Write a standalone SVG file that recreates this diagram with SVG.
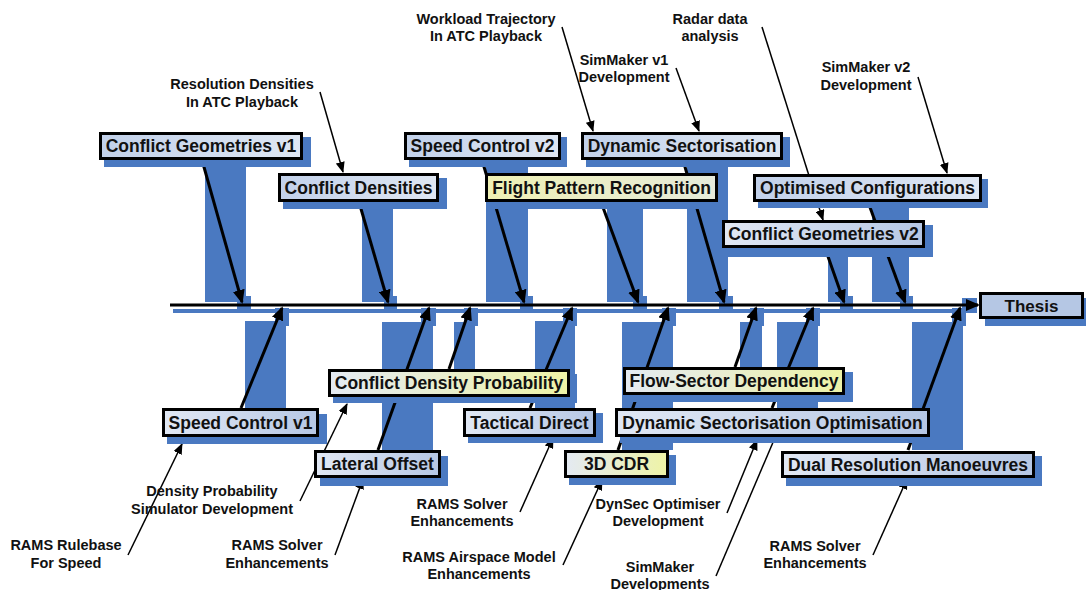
<svg xmlns="http://www.w3.org/2000/svg" width="1086" height="590" viewBox="0 0 1086 590">
  <style>
    .sh{fill:#4a79c1}
    .box{stroke:#000;stroke-width:3}
    .nt{font-family:"Liberation Sans",Arial,Helvetica,sans-serif;font-weight:bold;font-size:17.5px;text-anchor:middle;fill:#111}
    .lb{font-family:"Liberation Sans",Arial,Helvetica,sans-serif;font-weight:bold;font-size:14.5px;text-anchor:middle;fill:#111}
    .thick{stroke:#000;stroke-width:3;fill:none;marker-end:url(#ahB)}
    .thin{stroke:#000;stroke-width:1.5;fill:none;marker-end:url(#ahS)}
    .plain{stroke:#000;stroke-width:1.5;fill:none}
  </style>
  <defs>
    <linearGradient id="gTop" x1="0" y1="0" x2="1" y2="0">
      <stop offset="0" stop-color="#c2d1ea"/>
      <stop offset="1" stop-color="#dfe7f3"/>
    </linearGradient>
    <linearGradient id="gBot" x1="0" y1="0" x2="1" y2="0">
      <stop offset="0" stop-color="#e1e8f4"/>
      <stop offset="1" stop-color="#b6c7e4"/>
    </linearGradient>
    <linearGradient id="gYel" x1="0" y1="0" x2="1" y2="0">
      <stop offset="0" stop-color="#e4eaf3"/>
      <stop offset="1" stop-color="#eef3a6"/>
    </linearGradient>
    <linearGradient id="gYelR" x1="0" y1="0" x2="1" y2="0">
      <stop offset="0" stop-color="#eff1b4"/>
      <stop offset="1" stop-color="#e5eadb"/>
    </linearGradient>
    <marker id="ahB" markerUnits="userSpaceOnUse" markerWidth="14" markerHeight="12" refX="12" refY="6" orient="auto">
      <path d="M0,0L14,6L0,12z" fill="#000"/>
    </marker>
    <marker id="ahS" markerUnits="userSpaceOnUse" markerWidth="11" markerHeight="9" refX="10" refY="4.5" orient="auto">
      <path d="M0,0L11,4.5L0,9z" fill="#000"/>
    </marker>
  </defs>

  <!-- arrow shadows and timeline shadow -->
  <g id="shadows" class="sh">
    <rect x="173" y="309" width="796" height="4"/>
    <rect x="962" y="298" width="15" height="15"/>
    <!-- downward links -->
    <rect x="205" y="160" width="41" height="142"/><rect x="237" y="296" width="14" height="15"/>
    <rect x="362" y="202" width="31" height="100"/><rect x="384" y="296" width="13" height="15"/>
    <rect x="486" y="160" width="42" height="142"/><rect x="520" y="296" width="13" height="15"/>
    <rect x="607" y="202" width="36" height="100"/><rect x="633" y="296" width="14" height="15"/>
    <rect x="687" y="160" width="41" height="142"/><rect x="719" y="296" width="14" height="15"/>
    <rect x="872" y="202" width="37" height="100"/><rect x="900" y="296" width="13" height="15"/>
    <rect x="828" y="248" width="20" height="54"/><rect x="840" y="296" width="13" height="15"/>
    <!-- upward links -->
    <rect x="245" y="321" width="41" height="87"/><rect x="275" y="308" width="14" height="18"/>
    <rect x="382" y="322" width="51" height="128"/><rect x="421" y="308" width="15" height="18"/>
    <rect x="454" y="322" width="21" height="47"/><rect x="464" y="308" width="14" height="18"/>
    <rect x="535" y="321" width="40" height="87"/><rect x="563" y="308" width="14" height="18"/>
    <rect x="622" y="322" width="51" height="128"/><rect x="662" y="308" width="14" height="18"/>
    <rect x="740" y="322" width="22" height="45"/><rect x="750" y="308" width="14" height="18"/>
    <rect x="777" y="322" width="41" height="86"/><rect x="806" y="308" width="14" height="18"/>
    <rect x="912" y="322" width="51" height="128"/><rect x="952" y="308" width="14" height="18"/>
  </g>

  <!-- connectors -->
  <g id="connectors">
    <line class="thick" x1="170" y1="305" x2="978" y2="305"/>
    <line class="thick" x1="202" y1="160" x2="242" y2="302"/>
    <line class="thick" x1="359" y1="202" x2="388" y2="302"/>
    <line class="thick" x1="482" y1="160" x2="524" y2="302"/>
    <line class="thick" x1="601" y1="202" x2="638" y2="302"/>
    <line class="thick" x1="683" y1="160" x2="724" y2="302"/>
    <line class="thick" x1="868" y1="202" x2="905" y2="302"/>
    <line class="thick" x1="825" y1="248" x2="844" y2="302"/>
    <line class="thick" x1="241" y1="408" x2="282" y2="308"/>
    <line class="thick" x1="378" y1="450" x2="429" y2="308"/>
    <line class="thick" x1="449" y1="369" x2="470" y2="308"/>
    <line class="thick" x1="530" y1="408" x2="572" y2="308"/>
    <line class="thick" x1="618" y1="450" x2="668" y2="308"/>
    <line class="thick" x1="735" y1="367" x2="756" y2="308"/>
    <line class="thick" x1="772" y1="408" x2="813" y2="308"/>
    <line class="thick" x1="908" y1="450" x2="960" y2="308"/>
    <!-- annotation pointers -->
    <line class="thin" x1="320" y1="92" x2="343" y2="172"/>
    <line class="thin" x1="562" y1="27" x2="593" y2="131"/>
    <line class="thin" x1="676" y1="68" x2="699" y2="131"/>
    <line class="thin" x1="762" y1="27" x2="823" y2="220"/>
    <line class="thin" x1="918" y1="77" x2="947" y2="173"/>
    <line class="thin" x1="128" y1="555" x2="182" y2="444"/>
    <line class="thin" x1="300" y1="501" x2="347" y2="404"/>
    <line class="thin" x1="335" y1="555" x2="363" y2="479"/>
    <line class="thin" x1="520" y1="512" x2="553" y2="438"/>
    <line class="thin" x1="563" y1="565" x2="602" y2="480"/>
    <line class="thin" x1="727" y1="513" x2="757" y2="440"/>
    <line class="plain" x1="716" y1="576" x2="774" y2="440"/>
    <line class="thin" x1="873" y1="555" x2="907" y2="479"/>
  </g>

  <!-- annotations -->
  <g id="notes">
    <text class="lb" x="242" y="89">Resolution Densities</text>
    <text class="lb" x="242" y="107">In ATC Playback</text>
    <text class="lb" x="486" y="23.5">Workload Trajectory</text>
    <text class="lb" x="486" y="41">In ATC Playback</text>
    <text class="lb" x="624" y="65">SimMaker v1</text>
    <text class="lb" x="624" y="82">Development</text>
    <text class="lb" x="710" y="24">Radar data</text>
    <text class="lb" x="710" y="41">analysis</text>
    <text class="lb" x="866" y="72">SimMaker v2</text>
    <text class="lb" x="866" y="89.5">Development</text>
    <text class="lb" x="66" y="550">RAMS Rulebase</text>
    <text class="lb" x="66" y="567.5">For Speed</text>
    <text class="lb" x="212" y="496">Density Probability</text>
    <text class="lb" x="212" y="514">Simulator Development</text>
    <text class="lb" x="277" y="550">RAMS Solver</text>
    <text class="lb" x="277" y="567.5">Enhancements</text>
    <text class="lb" x="462" y="508.5">RAMS Solver</text>
    <text class="lb" x="462" y="526">Enhancements</text>
    <text class="lb" x="479" y="561.5">RAMS Airspace Model</text>
    <text class="lb" x="479" y="579">Enhancements</text>
    <text class="lb" x="658" y="508.5">DynSec Optimiser</text>
    <text class="lb" x="658" y="526">Development</text>
    <text class="lb" x="660" y="572">SimMaker</text>
    <text class="lb" x="660" y="589">Developments</text>
    <text class="lb" x="815" y="550.5">RAMS Solver</text>
    <text class="lb" x="815" y="568">Enhancements</text>
  </g>

  <!-- work packages -->
  <g id="n-cg1">
    <rect class="sh" x="104" y="137" width="207" height="30"/>
    <rect class="box" x="100.5" y="133.5" width="201" height="25" fill="url(#gTop)"/>
    <text class="nt" x="201" y="152.3">Conflict Geometries v1</text>
  </g>
  <g id="n-cd">
    <rect class="sh" x="283" y="178" width="164" height="31"/>
    <rect class="box" x="279.5" y="174.5" width="158" height="26" fill="url(#gTop)"/>
    <text class="nt" x="358.5" y="193.8">Conflict Densities</text>
  </g>
  <g id="n-sc2">
    <rect class="sh" x="409" y="137" width="158" height="30"/>
    <rect class="box" x="405.5" y="133.5" width="154" height="25" fill="url(#gTop)"/>
    <text class="nt" x="482.5" y="152.3">Speed Control v2</text>
  </g>
  <g id="n-fpr">
    <rect class="sh" x="490" y="178" width="234" height="31"/>
    <rect class="box" x="486.5" y="174.5" width="230" height="26" fill="url(#gYelR)"/>
    <text class="nt" x="601.5" y="193.8">Flight Pattern Recognition</text>
  </g>
  <g id="n-ds">
    <rect class="sh" x="586" y="137" width="204" height="30"/>
    <rect class="box" x="582.5" y="133.5" width="199" height="25" fill="url(#gTop)"/>
    <text class="nt" x="682" y="152.3">Dynamic Sectorisation</text>
  </g>
  <g id="n-oc">
    <rect class="sh" x="758" y="179" width="230" height="29"/>
    <rect class="box" x="754.5" y="175.5" width="226" height="25" fill="url(#gTop)"/>
    <text class="nt" x="867.5" y="194.3">Optimised Configurations</text>
  </g>
  <g id="n-cg2">
    <rect class="sh" x="727" y="225" width="206" height="32"/>
    <rect class="box" x="723.5" y="221.5" width="200" height="25" fill="url(#gBot)"/>
    <text class="nt" x="823.5" y="240.3">Conflict Geometries v2</text>
  </g>
  <g id="n-thesis">
    <rect class="sh" x="985" y="298" width="101" height="28"/>
    <rect class="box" x="980.5" y="293.5" width="102" height="24" fill="#b5c7e4"/>
    <text class="nt" x="1031.5" y="311.5" style="font-size:17px">Thesis</text>
  </g>
  <g id="n-sc1">
    <rect class="sh" x="167" y="414" width="160" height="30"/>
    <rect class="box" x="163.5" y="409.5" width="154" height="26" fill="url(#gBot)"/>
    <text class="nt" x="240.5" y="428.8">Speed Control v1</text>
  </g>
  <g id="n-cdp">
    <rect class="sh" x="333" y="374" width="244" height="29"/>
    <rect class="box" x="329.5" y="370.5" width="239" height="25" fill="url(#gYel)"/>
    <text class="nt" x="449" y="389.3">Conflict Density Probability</text>
  </g>
  <g id="n-lo">
    <rect class="sh" x="320" y="456" width="128" height="30"/>
    <rect class="box" x="315.5" y="451.5" width="124" height="25" fill="url(#gBot)"/>
    <text class="nt" x="377.5" y="470.3">Lateral Offset</text>
  </g>
  <g id="n-td">
    <rect class="sh" x="468" y="413" width="135" height="30"/>
    <rect class="box" x="464.5" y="409.5" width="130" height="26" fill="url(#gBot)"/>
    <text class="nt" x="529.5" y="428.8">Tactical Direct</text>
  </g>
  <g id="n-3d">
    <rect class="sh" x="569" y="455" width="107" height="30"/>
    <rect class="box" x="565.5" y="451.5" width="102" height="25" fill="url(#gYel)"/>
    <text class="nt" x="616.5" y="470.3">3D CDR</text>
  </g>
  <g id="n-fsd">
    <rect class="sh" x="628" y="372" width="225" height="30"/>
    <rect class="box" x="624.5" y="368.5" width="219" height="25" fill="url(#gYel)"/>
    <text class="nt" x="734" y="387.3">Flow-Sector Dependency</text>
  </g>
  <g id="n-dso">
    <rect class="sh" x="620" y="413" width="316" height="30"/>
    <rect class="box" x="616.5" y="409.5" width="312" height="26" fill="url(#gBot)"/>
    <text class="nt" x="772.5" y="428.8">Dynamic Sectorisation Optimisation</text>
  </g>
  <g id="n-drm">
    <rect class="sh" x="786" y="456" width="256" height="30"/>
    <rect class="box" x="782.5" y="452.5" width="251" height="24" fill="url(#gBot)"/>
    <text class="nt" x="908" y="470.8">Dual Resolution Manoeuvres</text>
  </g>
</svg>
